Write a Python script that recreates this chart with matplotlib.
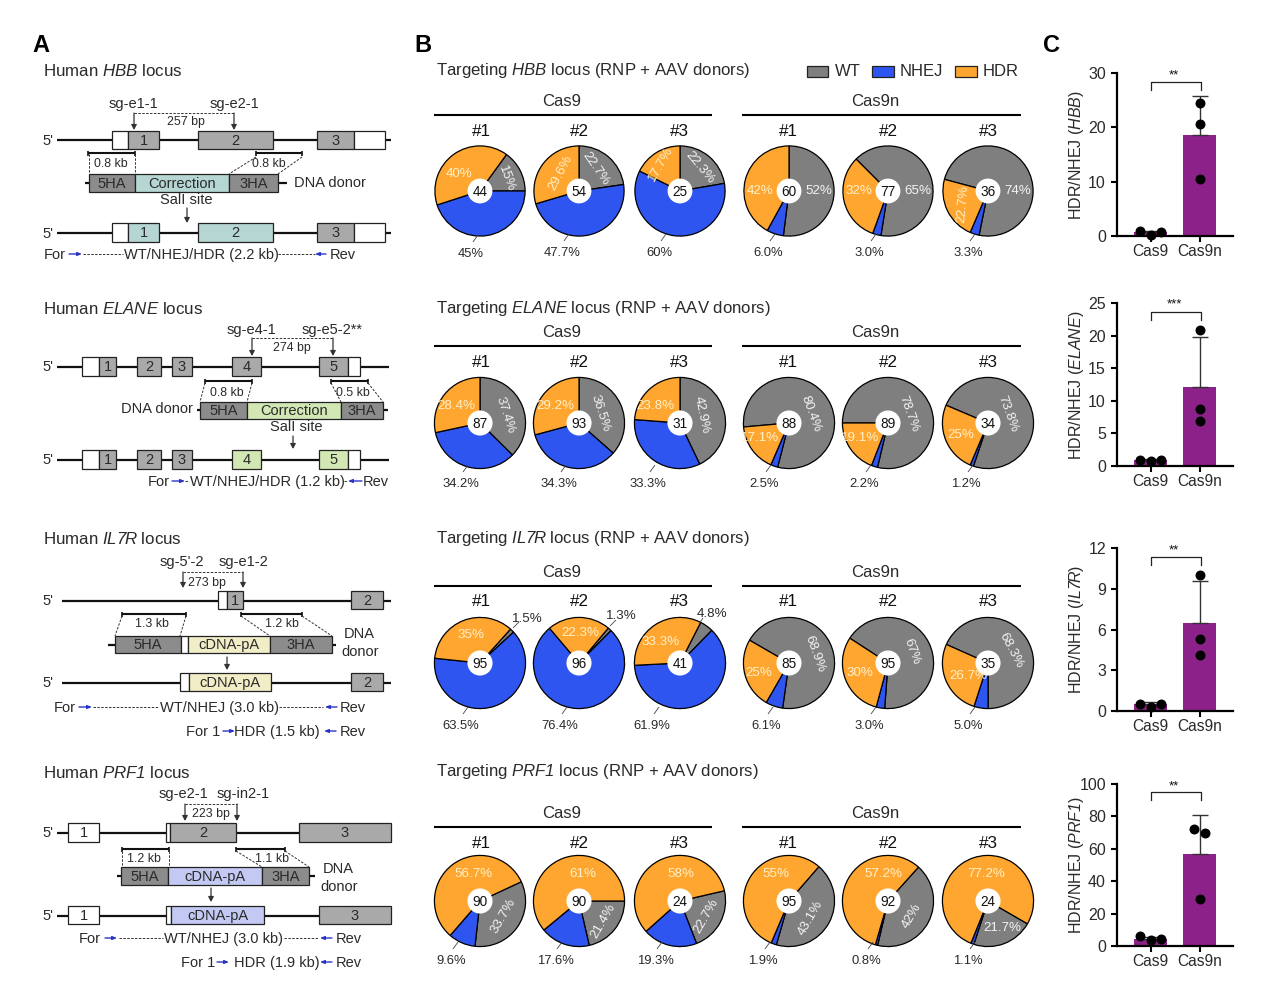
import matplotlib
matplotlib.use("Agg")
import matplotlib.pyplot as plt
from matplotlib.patches import Circle, Rectangle

plt.rcParams['font.family'] = ['Liberation Sans', 'DejaVu Sans']
plt.rcParams['mathtext.fontset'] = 'custom'
plt.rcParams['mathtext.rm'] = 'Liberation Sans'
# \mathit keeps digits upright, bf slot is pointed at the italic face so PRF1 and IL7R slant fully
plt.rcParams['mathtext.bf'] = 'Liberation Sans:italic'

W, H = 1265, 991

# pie values, order is Cas9 #1-3 then Cas9n #1-3
hbb_wt = [15, 22.7, 22.3, 52, 65, 74]
hbb_nhej = [45, 47.7, 60, 6.0, 3.0, 3.3]
hbb_hdr = [40, 29.6, 17.7, 42, 32, 22.7]
hbb_n = [44, 54, 25, 60, 77, 36]

elane_wt = [37.4, 36.5, 42.9, 80.4, 78.7, 73.8]
elane_nhej = [34.2, 34.3, 33.3, 2.5, 2.2, 1.2]
elane_hdr = [28.4, 29.2, 23.8, 17.1, 19.1, 25]
elane_n = [87, 93, 31, 88, 89, 34]

il7r_wt = [1.5, 1.3, 4.8, 68.9, 67, 68.3]
il7r_nhej = [63.5, 76.4, 61.9, 6.1, 3.0, 5.0]
il7r_hdr = [35, 22.3, 33.3, 25, 30, 26.7]
il7r_n = [95, 96, 41, 85, 95, 35]

prf1_wt = [33.7, 21.4, 22.7, 43.1, 42, 21.7]
prf1_nhej = [9.6, 17.6, 19.3, 1.9, 0.8, 1.1]
prf1_hdr = [56.7, 61, 58, 55, 57.2, 77.2]
prf1_n = [90, 90, 24, 95, 92, 24]

# bar panel values
hbb_bars = [0.7, 18.6]
hbb_err = [0.3, 7.2]
hbb_dots = [[0.9, 0.2, 0.7], [24.5, 20.6, 10.5]]
hbb_ticks = [0, 10, 20, 30]
elane_bars = [0.9, 12.1]
elane_err = [0.1, 7.7]
elane_dots = [[0.95, 0.8, 0.95], [20.9, 8.7, 6.9]]
elane_ticks = [0, 5, 10, 15, 20, 25]
il7r_bars = [0.5, 6.5]
il7r_err = [0.15, 3.1]
il7r_dots = [[0.55, 0.3, 0.55], [10.0, 5.3, 4.1]]
il7r_ticks = [0, 3, 6, 9, 12]
prf1_bars = [4.5, 57]
prf1_err = [1.3, 24]
prf1_dots = [[6, 3.5, 4.5], [72, 70, 29]]
prf1_ticks = [0, 20, 40, 60, 80, 100]

GREY, BLUE, ORANGE = '#7f7f7f', '#2f55f0', '#ffa630'
BOX, HA = '#a9a9a9', '#8c8c8c'
TEAL, GREEN, CREAM, LAV = '#b5d6d2', '#d3e7b5', '#f1edc6', '#c3c9f3'
PURPLE = '#8b2189'
DARK = '#2a2a2a'

fig = plt.figure(figsize=(W / 100, H / 100), dpi=100)
c = fig.add_axes([0, 0, 1, 1], zorder=5)
c.set_xlim(0, W)
c.set_ylim(H, 0)
c.axis('off')


def txt(x, y, s, size=10.5, ha='center', color=DARK, rot=0, **kw):
    c.text(x, y + 0.7, s, fontsize=size, ha=ha, va='center', color=color, rotation=rot,
           rotation_mode='anchor', **kw)


def line(x0, y0, x1, y1, lw=1.6, color='#111111', ls='-'):
    c.plot([x0, x1], [y0, y1], color=color, lw=lw, ls=ls, solid_capstyle='butt')


def dash(x0, y0, x1, y1):
    c.plot([x0, x1], [y0, y1], color='#333333', lw=0.7, ls=(0, (2.5, 1.5)))


def box(x0, x1, y0, y1, color, label=None, size=10.5):
    c.add_patch(Rectangle((x0, y0), x1 - x0, y1 - y0, fc=color, ec='#222222', lw=0.9, zorder=3))
    if label:
        c.text((x0 + x1) / 2, (y0 + y1) / 2 + 0.7, label, fontsize=size, ha='center', va='center',
               color=DARK, zorder=4)


def down(x, y0, y1):
    c.annotate('', xy=(x, y1), xytext=(x, y0),
               arrowprops=dict(arrowstyle='-|>,head_width=0.16,head_length=0.3', color='#333333', lw=0.9,
                               shrinkA=0, shrinkB=0))


def blue(x0, x1, y):
    c.annotate('', xy=(x1, y), xytext=(x0, y),
               arrowprops=dict(arrowstyle='-|>,head_width=0.1,head_length=0.25', color='#2a35c8', lw=1.0,
                               shrinkA=0, shrinkB=0))


def scale(x0, x1, y):
    line(x0, y, x1, y, lw=1.5)
    line(x0, y - 2.5, x0, y + 2.5, lw=1.2)
    line(x1, y - 2.5, x1, y + 2.5, lw=1.2)


def guide(xa, xb, y, ya, yb):
    # bracket between the two sg rna cut sites
    dash(xa, y, xb, y)
    down(xa, y, ya)
    down(xb, y, yb)


def prime(y):
    txt(48, y, "5'", ha='center')


# ---- panel A -----
txt(41, 45, 'A', size=17, weight='bold', color='black')
txt(423, 45, 'B', size=17, weight='bold', color='black')
txt(1052, 45, 'C', size=17, weight='bold', color='black')

# HBB
txt(43, 70, r'Human $\mathbf{HBB}$ locus', size=12.2, ha='left')
txt(133, 103, 'sg-e1-1')
txt(234, 103, 'sg-e2-1')
guide(134, 234, 113, 130, 130)
txt(186, 121, '257 bp', size=8.9)
prime(140)
line(57, 140, 391, 140)
box(112, 128, 131, 149, 'white')
box(128, 159, 131, 149, BOX, '1')
box(198, 273, 131, 149, BOX, '2')
box(317, 354, 131, 149, BOX, '3')
box(354, 385, 131, 149, 'white')
scale(88, 135, 153)
scale(256, 302, 153)
txt(111, 163, '0.8 kb', size=8.9)
txt(269, 163, '0.8 kb', size=8.9)
dash(89, 154, 89, 174)
dash(135, 154, 135, 174)
dash(256, 157, 229, 174)
dash(302, 157, 278, 174)
line(85, 183, 287, 183)
box(89, 135, 174, 192, HA, '5HA')
box(135, 229, 174, 192, TEAL, 'Correction')
box(229, 278, 174, 192, HA, '3HA')
txt(330, 182, 'DNA donor')
txt(186, 199, 'SalI site')
down(187, 208, 223)
prime(233)
line(57, 233, 391, 233)
box(112, 128, 223, 242, 'white')
box(128, 159, 223, 242, TEAL, '1')
box(198, 273, 223, 242, TEAL, '2')
box(317, 354, 223, 242, BOX, '3')
box(354, 385, 223, 242, 'white')
txt(55, 254, 'For')
blue(69, 82, 254)
dash(83, 254, 123, 254)
txt(201, 254, 'WT/NHEJ/HDR (2.2 kb)')
dash(278, 254, 315, 254)
blue(326, 315, 254)
txt(343, 254, 'Rev')

# ELANE
txt(43, 308, r'Human $\mathbf{ELANE}$ locus', size=12.2, ha='left')
txt(251, 329, 'sg-e4-1')
txt(332, 329, 'sg-e5-2**')
guide(252, 333, 338, 356, 356)
txt(292, 347, '274 bp', size=8.9)
prime(366)
line(57, 367, 389, 367)
box(82, 99, 357, 376, 'white')
box(99, 116, 357, 376, BOX, '1')
box(137, 161, 357, 376, BOX, '2')
box(172, 192, 357, 376, BOX, '3')
box(232, 261, 357, 376, BOX, '4')
box(319, 348, 357, 376, BOX, '5')
box(348, 360, 357, 376, 'white')
scale(205, 252, 381)
scale(331, 368, 381)
txt(227, 392, '0.8 kb', size=8.9)
txt(353, 392, '0.5 kb', size=8.9)
dash(205, 383, 200, 402)
dash(252, 383, 247, 402)
dash(331, 383, 341, 402)
dash(368, 383, 383, 402)
line(197, 410, 388, 410)
box(200, 247, 402, 419, HA, '5HA')
box(247, 341, 402, 419, GREEN, 'Correction')
box(341, 383, 402, 419, HA, '3HA')
txt(157, 408, 'DNA donor')
txt(296, 426, 'SalI site')
down(293, 436, 449)
prime(459)
line(57, 460, 389, 460)
box(82, 99, 450, 469, 'white')
box(99, 116, 450, 469, BOX, '1')
box(137, 161, 450, 469, BOX, '2')
box(172, 192, 450, 469, BOX, '3')
box(232, 261, 450, 469, GREEN, '4')
box(319, 348, 450, 469, GREEN, '5')
box(348, 360, 450, 469, 'white')
txt(159, 481, 'For')
blue(172, 185, 481)
dash(185, 481, 189, 481)
txt(267, 481, 'WT/NHEJ/HDR (1.2 kb)')
dash(344, 481, 348, 481)
blue(362, 348, 481)
txt(376, 481, 'Rev')

# IL7R
txt(43, 538, r'Human $\mathbf{IL7R}$ locus', size=12.2, ha='left')
txt(182, 561, "sg-5'-2")
txt(243, 561, 'sg-e1-2')
guide(183, 243, 572, 588, 588)
txt(207, 582, '273 bp', size=8.9)
prime(600)
line(62, 601, 391, 601)
box(218, 227, 591, 609, 'white')
box(227, 243, 591, 609, BOX, '1')
box(351, 383, 591, 609, BOX, '2')
scale(122, 186, 614)
scale(241, 302, 614)
txt(152, 623, '1.3 kb', size=8.9)
txt(282, 623, '1.2 kb', size=8.9)
dash(122, 616, 115, 636)
dash(186, 616, 180, 636)
dash(241, 616, 270, 636)
dash(302, 616, 332, 636)
line(108, 645, 336, 645)
box(115, 181, 636, 653, HA, '5HA')
box(181, 188, 636, 653, 'white')
box(188, 270, 636, 653, CREAM, 'cDNA-pA')
box(270, 332, 636, 653, HA, '3HA')
txt(359, 633, 'DNA')
txt(360, 651, 'donor')
down(227, 657, 670)
prime(682)
line(62, 683, 391, 683)
box(180, 189, 673, 691, 'white')
box(189, 271, 673, 691, CREAM, 'cDNA-pA')
box(351, 383, 673, 691, BOX, '2')
txt(65, 707, 'For')
blue(79, 92, 707)
dash(93, 707, 158, 707)
txt(219, 707, 'WT/NHEJ (3.0 kb)')
dash(279, 707, 323, 707)
blue(337, 325, 707)
txt(353, 707, 'Rev')
txt(203, 731, 'For 1')
blue(223, 235, 731)
txt(277, 731, 'HDR (1.5 kb)')
blue(336, 324, 731)
txt(353, 731, 'Rev')

# PRF1
txt(43, 772, r'Human $\mathbf{PRF1}$ locus', size=12.2, ha='left')
txt(183, 793, 'sg-e2-1')
txt(243, 793, 'sg-in2-1')
guide(185, 237, 804, 821, 821)
txt(211, 813, '223 bp', size=8.9)
prime(832)
line(57, 833, 391, 833)
box(68, 99, 823, 842, 'white', '1')
box(166, 170, 823, 842, 'white')
box(170, 236, 823, 842, BOX, '2')
box(299, 391, 823, 842, BOX, '3')
scale(122, 169, 849)
scale(236, 285, 849)
txt(144, 858, '1.2 kb', size=8.9)
txt(272, 858, '1.1 kb', size=8.9)
dash(122, 851, 122, 867)
dash(169, 851, 169, 867)
dash(236, 851, 262, 867)
dash(285, 851, 309, 867)
line(117, 876, 315, 876)
box(121, 168, 867, 885, HA, '5HA')
box(168, 262, 867, 885, LAV, 'cDNA-pA')
box(262, 309, 867, 885, HA, '3HA')
txt(338, 868, 'DNA')
txt(339, 886, 'donor')
down(211, 888, 902)
prime(915)
line(57, 916, 391, 916)
box(68, 99, 906, 924, 'white', '1')
box(166, 171, 906, 924, 'white')
box(171, 264, 906, 924, LAV, 'cDNA-pA')
box(319, 391, 906, 924, BOX, '3')
txt(90, 938, 'For')
blue(105, 117, 938)
dash(119, 938, 163, 938)
txt(224, 938, 'WT/NHEJ (3.0 kb)')
dash(284, 938, 318, 938)
blue(332, 320, 938)
txt(349, 938, 'Rev')
txt(198, 962, 'For 1')
blue(217, 229, 962)
txt(277, 962, 'HDR (1.9 kb)')
blue(332, 320, 962)
txt(349, 962, 'Rev')

# ---- panel B -----
pie_x = [480, 579, 680, 789, 888, 988]
col_x = [481, 579, 679, 788, 888, 988]


def draw_pie(cx, cy, r, wt, nhej, hdr, n, start):
    ax = fig.add_axes([(cx - r) / W, 1 - (cy + r) / H, 2 * r / W, 2 * r / H], zorder=2)
    ax.pie([wt, nhej, hdr], colors=[GREY, BLUE, ORANGE], startangle=90 - start, counterclock=False,
           radius=0.98, wedgeprops=dict(edgecolor='black', linewidth=0.9))
    ax.add_patch(Circle((0, 0), 0.27, fc='white', ec='none', zorder=5))
    ax.set_xlim(-1, 1)
    ax.set_ylim(-1, 1)
    ax.text(0, -0.02, str(n), fontsize=9.8, ha='center', va='center', color='#111111', zorder=6)


def row(title, y_title, y_group, y_line, y_num, cy, r, wt, nhej, hdr, n, starts, wt_pos, hdr_pos, nhej_pos):
    txt(436, y_title, title, size=12.05, ha='left')
    txt(562, y_group, 'Cas9', size=12)
    txt(875, y_group, 'Cas9n', size=12)
    line(434, y_line, 712, y_line, lw=1.5, color='black')
    line(742, y_line, 1021, y_line, lw=1.5, color='black')
    for i in range(6):
        txt(col_x[i], y_num, '#%d' % (i % 3 + 1), size=12.3, color='#111111')
        draw_pie(pie_x[i], cy, r, wt[i], nhej[i], hdr[i], n[i], starts[i])
        x, y, rot = wt_pos[i]
        outer = y < cy - 35
        txt(x, y, '%s%%' % wt[i], size=9.6, color=DARK if outer else '#f4f4f4', rot=rot)
        x, y, rot = hdr_pos[i]
        txt(x, y, '%s%%' % hdr[i], size=9.6, color='#fff0c8', rot=rot)
        x, y = nhej_pos[i]
        txt(x, y, '%s%%' % nhej[i], size=9.4)
        line(x + 2, y - 11, x + 7, y - 18, lw=0.6, color='#444444')


row(r'Targeting $\mathbf{HBB}$ locus (RNP + AAV donors)', 70, 101, 115, 131, 191, 46,
    hbb_wt, hbb_nhej, hbb_hdr, hbb_n,
    [36, 0, 0, 0, 315, 285],
    [(506, 178, -70), (596, 168, -55), (700, 167, -50), (819, 190, 0), (918, 190, 0), (1018, 190, 0)],
    [(459, 173, 0), (561, 172, 62), (661, 163, 60), (760, 190, 0), (859, 190, 0), (963, 203, 85)],
    [(471, 253), (562, 252), (659, 252), (768, 252), (869, 252), (968, 252)])

row(r'Targeting $\mathbf{ELANE}$ locus (RNP + AAV donors)', 308, 332, 346, 362, 423, 46.5,
    elane_wt, elane_nhej, elane_hdr, elane_n,
    [0, 0, 0, 265, 270, 293],
    [(505, 414, -72), (600, 413, -72), (702, 414, -78), (811, 413, -70), (909, 413, -70), (1008, 413, -70)],
    [(456, 405, 0), (555, 405, 0), (655, 405, 0), (760, 437, 0), (860, 437, 0), (961, 434, 0)],
    [(461, 483), (559, 483), (648, 483), (764, 483), (864, 483), (966, 483)])

row(r'Targeting $\mathbf{IL7R}$ locus (RNP + AAV donors)', 538, 572, 586, 601, 663, 46.5,
    il7r_wt, il7r_nhej, il7r_hdr, il7r_n,
    [42, 40, 27, 300, 303, 294],
    [(527, 618, 0), (621, 615, 0), (712, 613, 0), (815, 653, -70), (912, 651, -70), (1011, 650, -62)],
    [(471, 634, 0), (580, 632, 0), (661, 641, 0), (759, 672, 0), (860, 672, 0), (968, 675, 0)],
    [(461, 725), (560, 725), (652, 725), (766, 725), (869, 725), (968, 725)])
# short leaders of the small WT slices
line(513, 628, 519, 622, lw=0.6, color='#444444')
line(610, 626, 616, 620, lw=0.6, color='#444444')
line(699, 624, 703, 618, lw=0.6, color='#444444')

row(r'Targeting $\mathbf{PRF1}$ locus (RNP + AAV donors)', 771, 813, 827, 843, 901, 46.5,
    prf1_wt, prf1_nhej, prf1_hdr, prf1_n,
    [65, 90, 77, 41, 42, 120],
    [(503, 915, 60), (603, 920, 60), (706, 915, 60), (811, 917, 60), (912, 915, 60), (1002, 927, 0)],
    [(473, 873, 0), (583, 873, 0), (681, 873, 0), (776, 873, 0), (883, 873, 0), (986, 873, 0)],
    [(451, 960), (555, 960), (655, 960), (763, 960), (866, 960), (968, 960)])

# legend
for x0, x1, col, name, tx in [(807, 828, GREY, 'WT', 848), (872, 894, BLUE, 'NHEJ', 921), (955, 977, ORANGE, 'HDR', 1001)]:
    box(x0, x1, 66, 77, col)
    txt(tx, 71, name, size=12)


# ---- panel C -----
def bars(y_top, y_bot, ticks, vals, err, dots, name, label_y, stars, br_top, star_y, shift=(0, 0, 0)):
    ax = fig.add_axes([1117 / W, 1 - y_bot / H, 116 / W, (y_bot - y_top) / H], zorder=2)
    ax.bar([0, 1], vals, width=0.667, color=PURPLE)
    ax.errorbar([0, 1], vals, yerr=[[0, 0], err], fmt='none', ecolor='#333333', elinewidth=1.0,
                capsize=6, capthick=1.0)
    for i, d in enumerate(dots):
        xs = [-0.21, 0, 0.21] if i == 0 else [1 + s for s in shift]
        ax.scatter(xs, d, s=38, color='black', zorder=4, clip_on=False)
    ax.set_xlim(-0.677, 1.667)
    ax.set_ylim(ticks[0], ticks[-1])
    ax.set_yticks(ticks)
    ax.set_xticks([0, 1])
    ax.set_xticklabels(['Cas9', 'Cas9n'], fontsize=11.2, color=DARK)
    ax.tick_params(axis='y', labelsize=11.5, width=1.5, length=4, pad=4, labelcolor=DARK)
    ax.tick_params(axis='x', width=1.5, length=4, pad=2)
    ax.patch.set_alpha(0)
    for s in ['top', 'right']:
        ax.spines[s].set_visible(False)
    for s in ['left', 'bottom']:
        ax.spines[s].set_linewidth(1.6)
    txt(1077, label_y, 'HDR/NHEJ ($\\mathbf{%s}$)' % name, size=11.5, rot=90)
    c.plot([1151, 1151, 1201, 1201], [br_top + 8, br_top, br_top, br_top + 8], color='#222222', lw=0.9)
    txt(1174, star_y, stars, size=9.5, color='#111111')


bars(73, 236, hbb_ticks, hbb_bars, hbb_err, hbb_dots, 'HBB', 154, '**', 82, 75)
bars(303, 466, elane_ticks, elane_bars, elane_err, elane_dots, 'ELANE', 385, '***', 312, 304)
bars(548, 711, il7r_ticks, il7r_bars, il7r_err, il7r_dots, 'IL7R', 629, '**', 557, 550)
bars(784, 946, prf1_ticks, prf1_bars, prf1_err, prf1_dots, 'PRF1', 864, '**', 792, 786, shift=(-0.13, 0.1, 0))

fig.savefig('out.png', dpi=100)
